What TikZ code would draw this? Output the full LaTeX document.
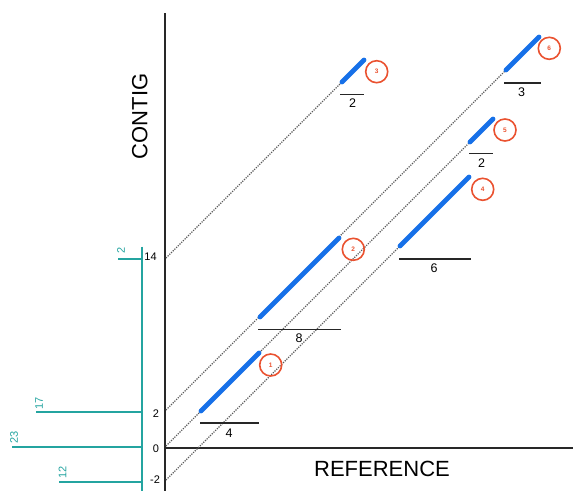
\documentclass[tikz,border=0pt]{standalone}
\usepackage{fontspec}
\setmainfont{Liberation Sans}
\definecolor{segblue}{RGB}{22,112,232}
\definecolor{tealc}{RGB}{36,164,160}
\definecolor{circred}{RGB}{234,82,48}
\definecolor{axisgray}{RGB}{40,40,40}
\begin{document}
\begin{tikzpicture}[x=1pt,y=-1pt,
  axisline/.style={axisgray,line width=2pt},
  guide/.style={black!65,line width=1.1pt,dash pattern=on 1.2pt off 1.2pt},
  seg/.style={segblue,line width=4.8pt,line cap=round},
  bar/.style={black!85,line width=1.6pt},
  barlabel/.style={font=\fontsize{12.5}{12.5}\selectfont,inner sep=0pt},
  ticklabel/.style={font=\fontsize{11}{11}\selectfont,inner sep=0pt},
  tealline/.style={tealc,line width=1.8pt},
  teallabel/.style={text=tealc,font=\fontsize{11}{11}\selectfont,inner sep=0pt,rotate=90},
  badge/.style={circle,draw=circred,line width=1.6pt,minimum size=22pt,inner sep=0pt,text=circred,font=\fontsize{6.5}{6.5}\selectfont\bfseries},
  title/.style={font=\fontsize{22}{22}\selectfont,inner sep=0pt}
]
\useasboundingbox (0,0) rectangle (573,491);

% axes
\coordinate (ytop) at (165,13);
\coordinate (ybot) at (165,491);
\coordinate (O) at (165,447.5);
\coordinate (xend) at (573,447.5);
\draw[axisline] (ytop) -- (ybot);
\draw[axisline] (O) -- (xend);

\node[title,rotate=90] (contig) at (139.7,116.5) {CONTIG};
\node[title] (reference) at (382,469) {REFERENCE};

% tick labels
\node[ticklabel] (t14) at (150.5,256.7) {14};
\node[ticklabel] (t2) at (156,414) {2};
\node[ticklabel] (t0) at (156,449) {0};
\node[ticklabel] (tm2) at (155,479.5) {-2};

% guide start points on the contig axis
\coordinate (gA) at (166,258);
\coordinate (gB) at (166,410);
\coordinate (gC) at (166,446);
\coordinate (gD) at (166,480);

% segment end points
\coordinate (s1a) at (201,411);  \coordinate (s1b) at (259,353);
\coordinate (s2a) at (260,317);  \coordinate (s2b) at (339,238);
\coordinate (s3a) at (342,82);   \coordinate (s3b) at (364,60);
\coordinate (s4a) at (400,246);  \coordinate (s4b) at (469,177);
\coordinate (s5a) at (470,142);  \coordinate (s5b) at (493,119);
\coordinate (s6a) at (506,70);   \coordinate (s6b) at (539,37);

% dotted guides
\draw[guide] (gA) -- (s3a);
\draw[guide] (gB) -- (s6a);
\draw[guide] (gC) -- (s5a);
\draw[guide] (gD) -- (s4a);

% blue segments
\draw[seg] (s1a) -- (s1b);
\draw[seg] (s2a) -- (s2b);
\draw[seg] (s3a) -- (s3b);
\draw[seg] (s4a) -- (s4b);
\draw[seg] (s5a) -- (s5b);
\draw[seg] (s6a) -- (s6b);

% reference bars
\coordinate (b1a) at (200,422.7); \coordinate (b1b) at (259,422.7);
\coordinate (b2a) at (258,329.3); \coordinate (b2b) at (341,329.3);
\coordinate (b3a) at (340,94.3);  \coordinate (b3b) at (364,94.3);
\coordinate (b4a) at (399,259);   \coordinate (b4b) at (470.7,259);
\coordinate (b5a) at (469,153.3); \coordinate (b5b) at (493,153.3);
\coordinate (b6a) at (504,82.7);  \coordinate (b6b) at (541,82.7);
\draw[bar] (b1a) -- (b1b);
\draw[bar] (b2a) -- (b2b);
\draw[bar] (b3a) -- (b3b);
\draw[bar] (b4a) -- (b4b);
\draw[bar] (b5a) -- (b5b);
\draw[bar] (b6a) -- (b6b);
\node[barlabel] (l1) at (229,433) {4};
\node[barlabel] (l2) at (299,338.5) {8};
\node[barlabel] (l3) at (352.7,103) {2};
\node[barlabel] (l4) at (434,268) {6};
\node[barlabel] (l5) at (481.7,162.7) {2};
\node[barlabel] (l6) at (521.7,91.7) {3};

% numbered badges
\node[badge] (c1) at (270.7,365) {1};
\node[badge] (c2) at (353.3,249.3) {2};
\node[badge] (c3) at (376.7,71.7) {3};
\node[badge] (c4) at (482.7,189.3) {4};
\node[badge] (c5) at (505,130) {5};
\node[badge] (c6) at (549.3,48.3) {6};

% teal coverage plot
\coordinate (vtop) at (141.7,246.7);
\coordinate (vbot) at (141.7,491);
\draw[tealline] (vtop) -- (vbot);
\coordinate (h14) at (141.7,259);   \coordinate (h14l) at (118.3,259);
\coordinate (h2) at (141.7,411.7);  \coordinate (h2l) at (36,411.7);
\coordinate (h0) at (141.7,446.7);  \coordinate (h0l) at (12.3,446.7);
\coordinate (hm2) at (141.7,481.7); \coordinate (hm2l) at (59.3,481.7);
\draw[tealline] (h14) -- (h14l);
\draw[tealline] (h2) -- (h2l);
\draw[tealline] (h0) -- (h0l);
\draw[tealline] (hm2) -- (hm2l);
\node[teallabel] (n14) at (121,250) {2};
\node[teallabel] (n2) at (39,403.5) {17};
\node[teallabel] (n0) at (14,437) {23};
\node[teallabel] (nm2) at (62.5,472) {12};
\end{tikzpicture}
\end{document}
